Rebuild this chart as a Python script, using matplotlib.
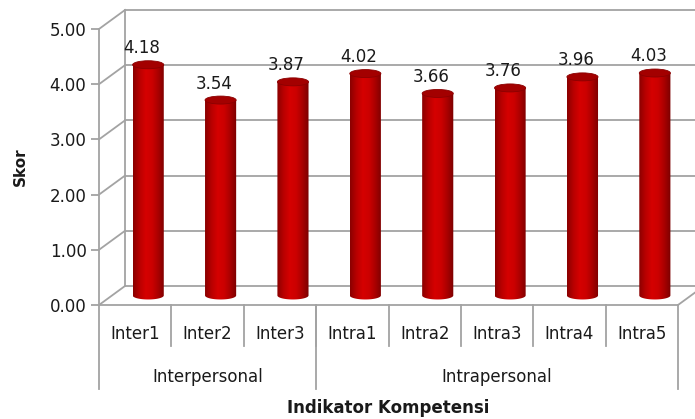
#!/usr/bin/env python3
import numpy as np
import matplotlib
matplotlib.use('Agg')
import matplotlib.pyplot as plt
from matplotlib.patches import Ellipse, PathPatch
from matplotlib.path import Path
from matplotlib.colors import LinearSegmentedColormap

# data
categories = ['Inter1', 'Inter2', 'Inter3', 'Intra1', 'Intra2', 'Intra3', 'Intra4', 'Intra5']
scores = [4.18, 3.54, 3.87, 4.02, 3.66, 3.76, 3.96, 4.03]
groups = ['Interpersonal', 'Intrapersonal']
group_sizes = [3, 5]
y_ticks = [0, 1, 2, 3, 4, 5]

GRID = '#a3a3a3'
TEXT = '#1a1a1a'
DX = 0.36    # depth shift in category units
DY = 0.345   # depth shift in value units
CYL_W = 0.43
ELL_H = 0.145
FS = 12

# the original is stretched sideways, so a wide face fits it best
plt.rcParams['font.family'] = ['DejaVu Sans']

fig = plt.figure(figsize=(6.95, 4.19), dpi=100)
ax = fig.add_axes([99 / 695, (419 - 305) / 419, 579 / 695, 276 / 419])
n = len(categories)
ax.set_xlim(0, n)
ax.set_ylim(0, 5)

for s in ['top', 'right']:
    ax.spines[s].set_visible(False)
for s in ['left', 'bottom']:
    ax.spines[s].set_color(GRID)
    ax.spines[s].set_linewidth(1.3)
ax.set_xticks([])
ax.set_yticks(y_ticks)
ax.set_yticklabels(['{:.2f}'.format(v) for v in y_ticks], fontsize=FS, color=TEXT)
ax.tick_params(axis='y', length=6, width=1.3, color=GRID, pad=3)

# back wall, side wall and floor
for v in y_ticks:
    ax.plot([DX, n + DX + 1], [v + DY, v + DY], color=GRID, lw=1.3, clip_on=False)
    ax.plot([0, DX], [v, v + DY], color=GRID, lw=1.3, clip_on=False)
ax.plot([DX, DX], [DY, 5 + DY], color=GRID, lw=1.3, clip_on=False)
ax.plot([n, n + DX], [0, DY], color=GRID, lw=1.3, clip_on=False)

# cylinders
cmap = LinearSegmentedColormap.from_list(
    'cyl', ['#8a0000', '#b80000', '#d50000', '#cc0000', '#a80000', '#7a0000'])
grad = np.linspace(0, 1, 200).reshape(1, -1)
for i, val in enumerate(scores):
    xc = i + 0.5 + DX / 2
    base = DY / 2
    top = val + DY / 2
    x0, x1 = xc - CYL_W / 2, xc + CYL_W / 2
    th = np.linspace(np.pi, 2 * np.pi, 40)
    verts = [(x0, top), (x0, base)]
    verts += list(zip(xc + CYL_W / 2 * np.cos(th), base + ELL_H / 2 * np.sin(th)))
    verts += [(x1, base), (x1, top), (x0, top)]
    codes = [Path.MOVETO] + [Path.LINETO] * (len(verts) - 2) + [Path.CLOSEPOLY]
    body = PathPatch(Path(verts, codes), facecolor='none', edgecolor='none')
    ax.add_patch(body)
    img = ax.imshow(grad, cmap=cmap, aspect='auto',
                    extent=[x0, x1, base - ELL_H, top], zorder=3)
    img.set_clip_path(body)
    ax.add_patch(Ellipse((xc, top), CYL_W, ELL_H, facecolor='#a30000',
                         edgecolor='#8a0000', lw=0.6, zorder=4))
    ax.text(i + 0.5 + DX / 4, top + 0.30, '{:.2f}'.format(val), ha='center',
            va='center', fontsize=FS, color=TEXT, zorder=5)

ax.set_xlim(0, n)
ax.set_ylim(0, 5)

# category axis with two levels
for i, c in enumerate(categories):
    ax.text(i + 0.5, -0.53, c, ha='center', va='center', fontsize=FS,
            color=TEXT, clip_on=False)
for i in range(1, n):
    ax.plot([i, i], [0, -0.75], color=GRID, lw=1.3, clip_on=False)
start = 0
ax.plot([0, 0], [0, -1.53], color=GRID, lw=1.3, clip_on=False)
for g, size in zip(groups, group_sizes):
    ax.text(start + size / 2, -1.31, g, ha='center', va='center', fontsize=FS,
            color=TEXT, clip_on=False)
    start += size
    ax.plot([start, start], [0, -1.53], color=GRID, lw=1.3, clip_on=False)

ax.text(n / 2, -1.86, 'Indikator Kompetensi', ha='center', va='center',
        fontsize=FS, fontweight='bold', color=TEXT, clip_on=False)
ax.text(-1.09, 2.51, 'Skor', ha='center', va='center', rotation=90,
        fontsize=11, fontweight='bold', color=TEXT, clip_on=False)

fig.savefig('out.png', dpi=100)
